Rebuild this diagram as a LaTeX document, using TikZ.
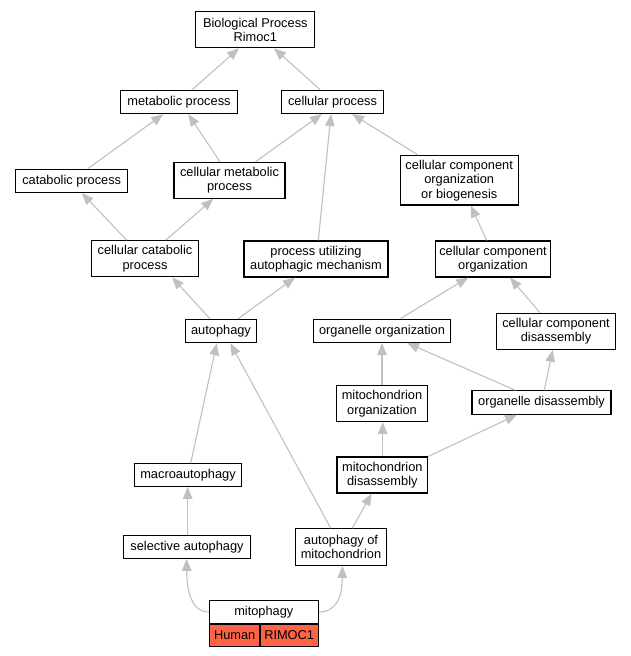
\documentclass[tikz,border=0pt]{standalone}
\usepackage{fontspec}
\setmainfont{Liberation Sans}
\usetikzlibrary{arrows.meta}
\definecolor{edgegray}{HTML}{C0C0C0}
\definecolor{cellred}{HTML}{FF6347}
\newcommand\nodefont{\fontsize{12.8}{14.4}\selectfont}
\tikzset{
  box/.style={draw=black, line width=1.1pt, fill=white, inner sep=0pt, align=center, font=\nodefont},
  cell/.style={box, fill=cellred},
  edge/.style={draw=edgegray, line width=1.1pt, -{Triangle[length=12pt,width=9.5pt]}, color=edgegray},
}
\begin{document}
\begin{tikzpicture}[x=1pt,y=-1pt]
\useasboundingbox (0,0) rectangle (631,656);
% nodes
\node[box, minimum width=119pt, minimum height=36pt] (bp) at (255.3,29.7) {Biological Process\\Rimoc1};
\node[box, minimum width=116.6pt, minimum height=23.3pt] (mp) at (179,102) {metabolic process};
\node[box, minimum width=101.6pt, minimum height=23.3pt] (cp) at (332.5,101.8) {cellular process};
\node[box, minimum width=112pt, minimum height=23.3pt] (catab) at (71.7,180.7) {catabolic process};
\node[box, minimum width=111pt, minimum height=36pt] (cmp) at (229.5,180.3) {cellular metabolic\\process};
\node[box, minimum width=118.3pt, minimum height=49.3pt] (ccob) at (459.2,180.3) {cellular component\\organization\\or biogenesis};
\node[box, minimum width=106.6pt, minimum height=36pt] (ccat) at (145,258.7) {cellular catabolic\\process};
\node[box, minimum width=144pt, minimum height=36pt] (pu) at (316,259) {process utilizing\\autophagic mechanism};
\node[box, minimum width=115.7pt, minimum height=36pt] (cco) at (493,259) {cellular component\\organization};
\node[box, minimum width=71pt, minimum height=23.3pt] (aut) at (221,331) {autophagy};
\node[box, minimum width=137pt, minimum height=23.3pt] (oo) at (382,330.7) {organelle organization};
\node[box, minimum width=118.3pt, minimum height=36pt] (ccd) at (556,331.3) {cellular component\\disassembly};
\node[box, minimum width=91pt, minimum height=36pt] (mo) at (382,403.5) {mitochondrion\\organization};
\node[box, minimum width=139pt, minimum height=23.3pt] (od) at (541.5,402.5) {organelle disassembly};
\node[box, minimum width=106.6pt, minimum height=22.6pt] (macro) at (188,475) {macroautophagy};
\node[box, minimum width=90.7pt, minimum height=36pt] (md) at (382.3,475) {mitochondrion\\disassembly};
\node[box, minimum width=127.4pt, minimum height=22.6pt] (sa) at (187,547) {selective autophagy};
\node[box, minimum width=91pt, minimum height=36.6pt] (aom) at (341,547) {autophagy of\\mitochondrion};
\node[box, minimum width=109pt, minimum height=22.3pt] (mito) at (263.8,612) {mitophagy};
\node[cell, minimum width=50.7pt, minimum height=22pt, anchor=north west] (human) at (mito.south west) {Human};
\node[cell, minimum width=58.3pt, minimum height=22pt, anchor=north east] (rimoc) at (mito.south east) {RIMOC1};
% edges
\draw[edge] ([xshift=13pt]mp.north) -- ([xshift=-16.3pt]bp.south);
\draw[edge] ([xshift=-12.5pt]cp.north) -- ([xshift=18.7pt]bp.south);
\draw[edge] ([xshift=16.3pt]catab.north) -- ([xshift=-15.7pt]mp.south);
\draw[edge] ([xshift=-9.5pt]cmp.north) -- ([xshift=9.3pt]mp.south);
\draw[edge] ([xshift=26pt]cmp.north) -- ([xshift=-10.5pt]cp.south);
\draw[edge] ([xshift=-41pt]ccob.north) -- ([xshift=19.5pt]cp.south);
\draw[edge] ([xshift=2.3pt]pu.north) -- ([xshift=-1.5pt]cp.south);
\draw[edge] ([xshift=-18.3pt]ccat.north) -- ([xshift=10pt]catab.south);
\draw[edge] ([xshift=20.7pt]ccat.north) -- ([xshift=-16.2pt]cmp.south);
\draw[edge] ([xshift=-6.3pt]cco.north) -- ([xshift=11.5pt]ccob.south);
\draw[edge] ([xshift=-11pt]aut.north) -- ([xshift=27pt]ccat.south);
\draw[edge] ([xshift=17pt]aut.north) -- ([xshift=-21pt]pu.south);
\draw[edge] ([xshift=18.5pt]oo.north) -- ([xshift=-24.7pt]cco.south);
\draw[edge] ([xshift=-16pt]ccd.north) -- ([xshift=17pt]cco.south);
\draw[edge] (mo.north) -- (oo.south);
\draw[edge] ([xshift=-26pt]od.north) -- ([xshift=25pt]oo.south);
\draw[edge] ([xshift=2.8pt]od.north) -- ([xshift=-3.3pt]ccd.south);
\draw[edge] ([xshift=0.4pt]md.north) -- ([xshift=0.7pt]mo.south);
\draw[edge] (md.north east) -- ([xshift=-24.5pt]od.south);
\draw[edge] ([xshift=2.7pt]macro.north) -- ([xshift=-4.2pt]aut.south);
\draw[edge] ([xshift=-10.3pt]aom.north) -- ([xshift=9.3pt]aut.south);
\draw[edge] ([xshift=11.3pt]aom.north) -- ([xshift=-10.6pt]md.south);
\draw[edge] ([xshift=0.7pt]sa.north) -- ([xshift=-0.3pt]macro.south);
\draw[edge] (mito.west) .. controls +(-18,0) and +(0,30) .. ([xshift=-0.3pt]sa.south);
\draw[edge] (mito.east) .. controls +(18,0) and +(0,30) .. ([xshift=1.3pt]aom.south);
\end{tikzpicture}
\end{document}
